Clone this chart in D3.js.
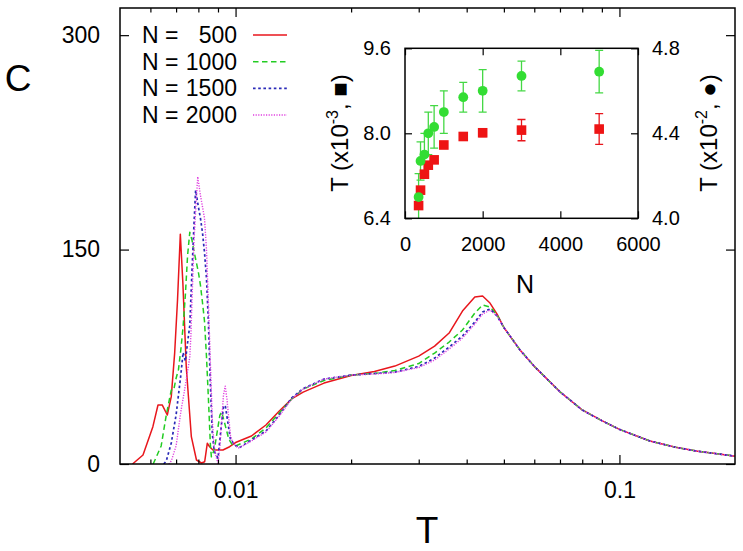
<!DOCTYPE html>
<html><head><meta charset="utf-8">
<script src="https://cdn.jsdelivr.net/npm/d3@7"></script>
<style>
body{margin:0;background:#fff}
svg{display:block}
text{font-family:"Liberation Sans",Arial,Helvetica,sans-serif;fill:#000}
</style>
</head><body>
<svg id="c" width="743" height="551"></svg>
<script>
// ---------- main plot data (C vs T, log T) ----------
const tailT = [0.05, 0.055, 0.06, 0.07, 0.08, 0.09, 0.1, 0.12, 0.14, 0.16, 0.18, 0.2];
const tailC = [95.5, 80, 68.3, 50.5, 37.8, 30.3, 24.2, 16.1, 11.7, 8.9, 7.1, 5.5];

const T500 = [0.00539, 0.00574, 0.00609, 0.00628, 0.00644, 0.00664, 0.0068, 0.00694, 0.00706, 0.00718, 0.00729, 0.00744, 0.00767, 0.00791, 0.00815, 0.00831, 0.00844, 0.00856, 0.00873, 0.00927, 0.00965, 0.01, 0.011, 0.012, 0.013, 0.014, 0.015, 0.017, 0.02, 0.023, 0.026, 0.03, 0.033, 0.036, 0.039, 0.042, 0.044, 0.046, 0.048];
const C500 = [0, 6.3, 26.1, 41.3, 41.3, 34.3, 47.1, 77.6, 114.7, 160.8, 126.6, 68, 19.1, 2.8, 0.7, 1.6, 14.5, 12.1, 9.8, 9.8, 12.1, 15.0, 19.6, 27.3, 37.1, 45.5, 50.3, 56.6, 61.9, 64.7, 68.5, 75.5, 82.5, 91.6, 107, 116.8, 117.5, 112.6, 104.9];

const T1000 = [0.0061, 0.0062, 0.0064, 0.0066, 0.0068, 0.0069, 0.007, 0.0071, 0.0072, 0.0073, 0.0074, 0.0075, 0.0076, 0.0077, 0.0078, 0.0079, 0.008, 0.0081, 0.0082, 0.0083, 0.0084, 0.0085, 0.0086, 0.00865, 0.0088, 0.009, 0.0091, 0.0092, 0.0094, 0.0096, 0.0098, 0.01, 0.011, 0.012, 0.013, 0.014, 0.015, 0.017, 0.02, 0.023, 0.026, 0.03, 0.033, 0.036, 0.039, 0.042, 0.044, 0.046, 0.048];
const C1000 = [0, 4.2, 12.6, 34.3, 51.7, 51.7, 60, 66, 79.7, 96, 118.2, 146, 162.2, 156.6, 148.3, 141.3, 134.3, 125.2, 113, 100, 75, 45, 13, 5, 9.8, 26, 34, 36.5, 27, 17.5, 13.5, 12.6, 17.5, 25.2, 35.7, 45.5, 52.4, 58.4, 62.2, 63.3, 65.4, 70.3, 77.6, 85.3, 93.7, 105.6, 111.2, 109.8, 104.2];

const T1500 = [0.0065, 0.0066, 0.0068, 0.007, 0.0072, 0.0073, 0.0074, 0.0075, 0.0076, 0.0077, 0.0078, 0.00787, 0.008, 0.0081, 0.0082, 0.0083, 0.0084, 0.0085, 0.0086, 0.0087, 0.0088, 0.009, 0.0092, 0.0093, 0.0094, 0.0095, 0.0097, 0.01, 0.0102, 0.011, 0.012, 0.013, 0.014, 0.015, 0.017, 0.02, 0.023, 0.026, 0.03, 0.033, 0.036, 0.039, 0.042, 0.044, 0.046, 0.048];
const C1500 = [0, 2.1, 14.7, 34.3, 62, 78, 72, 85, 97, 135, 170, 191.6, 180, 172, 162, 148, 130, 98, 55, 21, 9, 4, 29, 40, 41, 33, 17, 13, 11.2, 16.8, 23.1, 34.3, 46.2, 52.8, 59.4, 62.2, 63.3, 64.3, 68.2, 74.1, 81.8, 89.5, 99.3, 106.3, 108.4, 103.5];

const T2000 = [0.0067, 0.0068, 0.007, 0.0072, 0.0074, 0.0075, 0.0076, 0.00765, 0.0077, 0.0078, 0.0079, 0.00797, 0.0081, 0.0082, 0.0083, 0.0084, 0.0085, 0.0086, 0.0087, 0.0088, 0.0089, 0.009, 0.0091, 0.0092, 0.0093, 0.0094, 0.0095, 0.0096, 0.0097, 0.0098, 0.01, 0.0102, 0.011, 0.012, 0.013, 0.014, 0.015, 0.017, 0.02, 0.023, 0.026, 0.03, 0.033, 0.036, 0.039, 0.042, 0.044, 0.046, 0.048];
const C2000 = [0, 2.1, 12.6, 36.4, 55, 65, 75, 90, 115, 158, 185, 201, 188, 180, 172, 150, 112, 70, 30, 12, 5, 0.5, 12, 30, 48, 54.5, 45, 32, 20, 16, 12.6, 11.2, 16.1, 22.4, 33.6, 45.5, 52.4, 59.4, 62.2, 62.9, 64, 67.5, 72.7, 80.4, 88.1, 97.9, 104.9, 107.7, 103.5];

const seriesNums = ["500", "1000", "1500", "2000"];
const seriesT = [T500, T1000, T1500, T2000];
const seriesC = [C500, C1000, C1500, C2000];
const seriesColor = ["#e8161c", "#22cc22", "#2a2ab8", "#e040e0"];
const seriesDash = [null, "5.5,3.5", "2.6,2.6", "1.2,1.4"];
const seriesWidth = [1.5, 1.5, 1.7, 1.4];

const xTicks = [0.01, 0.1];
const xTickLabels = ["0.01", "0.1"];
const xMinor = [0.006, 0.007, 0.008, 0.009, 0.02, 0.03, 0.04, 0.05, 0.06, 0.07, 0.08, 0.09];
const yTicks = [0, 150, 300];

// ---------- inset data ----------
const insetN = [350, 400, 500, 600, 750, 1000, 1500, 2000, 3000, 5000];
const tSquare = [6.64, 6.93, 7.23, 7.40, 7.50, 7.78, 7.94, 8.01, 8.06, 8.08];
const tSquareErr = [0.03, 0.03, 0.04, 0.04, 0.05, 0.05, 0.06, 0.07, 0.2, 0.29];
const tCircle = [4.10, 4.27, 4.30, 4.40, 4.43, 4.50, 4.57, 4.60, 4.67, 4.69];
const tCircleErr = [0.11, 0.09, 0.10, 0.10, 0.10, 0.10, 0.07, 0.10, 0.07, 0.10];
const insetXTicks = [0, 2000, 4000, 6000];
const insetYLTicks = [6.4, 8.0, 9.6];
const insetYRTicks = [4.0, 4.4, 4.8];

// ---------- drawing ----------
const svg = d3.select("#c");
const M = {l: 120, r: 735, t: 8, b: 464};
const x = d3.scaleLog().domain([0.005, 0.2]).range([M.l, M.r]);
const y = d3.scaleLinear().domain([0, 319]).range([M.b, M.t]);

svg.append("defs").append("clipPath").attr("id", "clipMain")
  .append("rect").attr("x", M.l).attr("y", M.t).attr("width", M.r - M.l).attr("height", M.b - M.t);

// curves
const line = d3.line().x(d => x(d[0])).y(d => y(d[1]));
const gCurves = svg.append("g").attr("clip-path", "url(#clipMain)");
for (let i = 0; i < 4; i++) {
  const pts = seriesT[i].map((t, k) => [t, seriesC[i][k]])
    .concat(tailT.map((t, k) => [t, tailC[k]]));
  gCurves.append("path").datum(pts).attr("d", line)
    .attr("fill", "none").attr("stroke", seriesColor[i])
    .attr("stroke-width", seriesWidth[i])
    .attr("stroke-dasharray", seriesDash[i])
    .attr("stroke-linejoin", "round");
}

// axes
function styleAxis(g) {
  g.select(".domain").remove();
  g.selectAll("line").attr("stroke", "#000").attr("stroke-width", 1.2);
  g.selectAll("text").attr("font-size", 23).attr("fill", "#000")
    .style("font-family", '"Liberation Sans",Arial,sans-serif');
}
svg.append("g").attr("transform", `translate(0,${M.b})`)
  .call(d3.axisBottom(x).tickValues(xTicks).tickFormat((d, i) => xTickLabels[i]).tickSize(-9).tickPadding(18))
  .call(styleAxis);
svg.append("g").attr("transform", `translate(0,${M.b})`)
  .call(d3.axisBottom(x).tickValues(xMinor).tickFormat("").tickSize(-4.5)).call(styleAxis);
svg.append("g").attr("transform", `translate(0,${M.t})`)
  .call(d3.axisTop(x).tickValues(xTicks).tickFormat("").tickSize(-9)).call(styleAxis);
svg.append("g").attr("transform", `translate(0,${M.t})`)
  .call(d3.axisTop(x).tickValues(xMinor).tickFormat("").tickSize(-4.5)).call(styleAxis);
svg.append("g").attr("transform", `translate(${M.l},0)`)
  .call(d3.axisLeft(y).tickValues(yTicks).tickFormat(d3.format("d")).tickSize(-9).tickPadding(20))
  .call(styleAxis);
svg.append("g").attr("transform", `translate(${M.r},0)`)
  .call(d3.axisRight(y).tickValues(yTicks).tickFormat("").tickSize(-9)).call(styleAxis);

svg.append("rect").attr("x", M.l).attr("y", M.t).attr("width", M.r - M.l).attr("height", M.b - M.t)
  .attr("fill", "none").attr("stroke", "#000").attr("stroke-width", 1.5);

// axis titles
svg.append("text").attr("x", 18).attr("y", 78).attr("text-anchor", "middle")
  .attr("dominant-baseline", "central").attr("font-size", 37).text("C");
svg.append("text").attr("x", 427).attr("y", 530).attr("text-anchor", "middle")
  .attr("dominant-baseline", "central").attr("font-size", 37).text("T");

// legend
const legY = [35, 61.7, 88.3, 115];
for (let i = 0; i < 4; i++) {
  svg.append("text").attr("x", 142).attr("y", legY[i]).attr("dominant-baseline", "central")
    .attr("font-size", 23).text("N =");
  svg.append("text").attr("x", 237).attr("y", legY[i]).attr("dominant-baseline", "central")
    .attr("text-anchor", "end").attr("font-size", 23).text(seriesNums[i]);
  svg.append("line").attr("x1", 253).attr("x2", 287).attr("y1", legY[i]).attr("y2", legY[i])
    .attr("stroke", seriesColor[i]).attr("stroke-width", seriesWidth[i])
    .attr("stroke-dasharray", seriesDash[i]);
}

// ---------- inset ----------
const I = {l: 405, r: 638, t: 48.3, b: 218.3};
const xi = d3.scaleLinear().domain([0, 6000]).range([I.l, I.r]);
const yl = d3.scaleLinear().domain([6.4, 9.6]).range([I.b, I.t]);
const yr = d3.scaleLinear().domain([4.0, 4.8]).range([I.b, I.t]);

svg.append("rect").attr("x", I.l).attr("y", I.t).attr("width", I.r - I.l).attr("height", I.b - I.t)
  .attr("fill", "#fff");
svg.select("defs").append("clipPath").attr("id", "clipInset")
  .append("rect").attr("x", I.l).attr("y", I.t).attr("width", I.r - I.l).attr("height", I.b - I.t);

function styleInset(g) {
  g.select(".domain").remove();
  g.selectAll("line").attr("stroke", "#000").attr("stroke-width", 1.2);
  g.selectAll("text").attr("font-size", 20).attr("fill", "#000")
    .style("font-family", '"Liberation Sans",Arial,sans-serif');
}
svg.append("g").attr("transform", `translate(0,${I.b})`)
  .call(d3.axisBottom(xi).tickValues(insetXTicks).tickFormat(d3.format("d")).tickSize(-7).tickPadding(19))
  .call(styleInset);
svg.append("g").attr("transform", `translate(0,${I.t})`)
  .call(d3.axisTop(xi).tickValues(insetXTicks).tickFormat("").tickSize(-7)).call(styleInset);
svg.append("g").attr("transform", `translate(${I.l},0)`)
  .call(d3.axisLeft(yl).tickValues(insetYLTicks).tickFormat(d3.format(".1f")).tickSize(-7).tickPadding(14))
  .call(styleInset);
svg.append("g").attr("transform", `translate(${I.r},0)`)
  .call(d3.axisRight(yr).tickValues(insetYRTicks).tickFormat(d3.format(".1f")).tickSize(-7).tickPadding(14))
  .call(styleInset);

const gIn = svg.append("g").attr("clip-path", "url(#clipInset)");
// error bars
const cap = 4;
insetN.forEach((n, k) => {
  const xc = xi(n);
  const g1 = gIn.append("g").attr("stroke", "#44d844").attr("stroke-width", 1.3);
  const top = yr(tCircle[k] + tCircleErr[k]), bot = yr(tCircle[k] - tCircleErr[k]);
  g1.append("line").attr("x1", xc).attr("x2", xc).attr("y1", top).attr("y2", bot);
  g1.append("line").attr("x1", xc - cap).attr("x2", xc + cap).attr("y1", top).attr("y2", top);
  g1.append("line").attr("x1", xc - cap).attr("x2", xc + cap).attr("y1", bot).attr("y2", bot);
  const g2 = gIn.append("g").attr("stroke", "#e8161c").attr("stroke-width", 1.3);
  const t2 = yl(tSquare[k] + tSquareErr[k]), b2 = yl(tSquare[k] - tSquareErr[k]);
  g2.append("line").attr("x1", xc).attr("x2", xc).attr("y1", t2).attr("y2", b2);
  g2.append("line").attr("x1", xc - cap).attr("x2", xc + cap).attr("y1", t2).attr("y2", t2);
  g2.append("line").attr("x1", xc - cap).attr("x2", xc + cap).attr("y1", b2).attr("y2", b2);
});
gIn.selectAll("rect.sq").data(insetN).join("rect").attr("class", "sq")
  .attr("x", (d) => xi(d) - 4.8).attr("y", (d, k) => yl(tSquare[k]) - 4.8)
  .attr("width", 9.6).attr("height", 9.6).attr("fill", "#ee1414");
gIn.selectAll("circle.ci").data(insetN).join("circle").attr("class", "ci")
  .attr("cx", (d) => xi(d)).attr("cy", (d, k) => yr(tCircle[k]))
  .attr("r", 4.9).attr("fill", "#33dd33");

svg.append("rect").attr("x", I.l).attr("y", I.t).attr("width", I.r - I.l).attr("height", I.b - I.t)
  .attr("fill", "none").attr("stroke", "#000").attr("stroke-width", 1.5);

// inset titles
svg.append("text").attr("x", 525).attr("y", 284).attr("text-anchor", "middle")
  .attr("dominant-baseline", "central").attr("font-size", 25).text("N");

function rotTitle(xb, sup, sym) {
  const t = svg.append("text").attr("transform", `translate(${xb},133) rotate(-90)`)
    .attr("text-anchor", "middle").attr("font-size", 24);
  t.append("tspan").text("T (x10");
  t.append("tspan").attr("font-size", 16).attr("dy", -10).text(sup);
  t.append("tspan").attr("dy", 10).text(", " + sym + ")");
}
rotTitle(348, "-3", "\u25A0");
rotTitle(717, "-2", "\u25CF");
</script>
</body></html>
